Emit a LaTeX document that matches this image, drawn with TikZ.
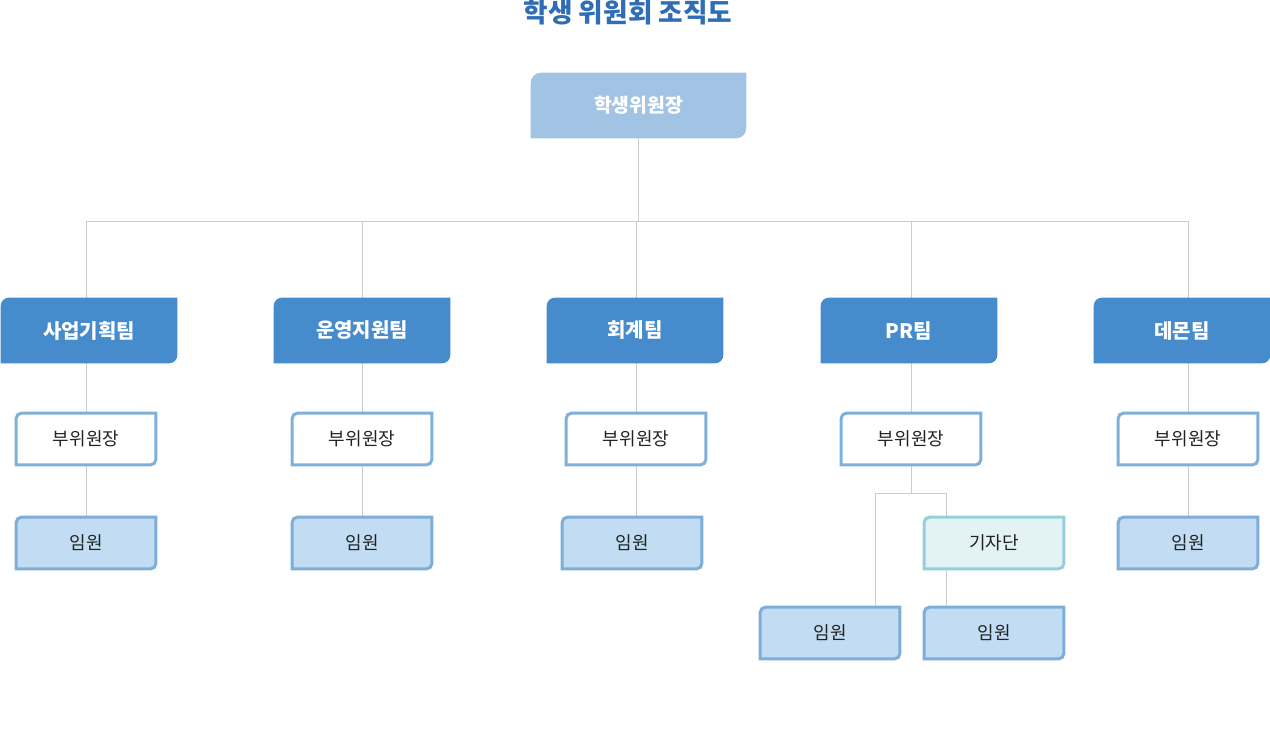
\documentclass[tikz,border=0pt]{standalone}
\usepackage{fontspec}
\setmainfont{Noto Sans CJK KR}
\usetikzlibrary{calc,backgrounds}

\definecolor{titleblue}{HTML}{2F6EB5}
\definecolor{chieffill}{HTML}{A2C4E4}
\definecolor{teamfill}{HTML}{468BCB}
\definecolor{deputyline}{HTML}{7FB0DA}
\definecolor{memberfill}{HTML}{C2DDF3}
\definecolor{memberline}{HTML}{7EAED8}
\definecolor{pressfill}{HTML}{E2F2F5}
\definecolor{pressline}{HTML}{94CFDA}
\definecolor{linegray}{HTML}{CCCCCC}
\definecolor{textdark}{HTML}{222222}

\tikzset{
  chief/.style={minimum width=161.25pt, minimum height=48.75pt, inner sep=0pt,
    font=\bfseries\fontsize{14.5}{16}\selectfont, text=white},
  team/.style={minimum width=132pt, minimum height=48.75pt, inner sep=0pt,
    font=\bfseries\fontsize{15}{17}\selectfont, text=white},
  deputy/.style={minimum width=104.25pt, minimum height=38.25pt, inner sep=0pt,
    font=\fontsize{13.5}{15}\selectfont, text=textdark},
  link/.style={draw=linegray, line width=0.75pt},
  chief frame/.style={fill=chieffill},
  team frame/.style={fill=teamfill},
  deputy frame/.style={draw=deputyline, fill=white, line width=2.25pt},
  member frame/.style={draw=memberline, fill=memberfill, line width=2.25pt},
  press frame/.style={draw=pressline, fill=pressfill, line width=2.25pt},
}

% box with round top-left and bottom-right corners: node, style, radius
\newcommand\orgframe[3]{%
  \path[#2] (#1.south west) -- ($(#1.north west)+(0,#3)$)
    arc[start angle=180, end angle=270, radius=#3] -- (#1.north east)
    -- ($(#1.south east)-(0,#3)$)
    arc[start angle=0, end angle=90, radius=#3] -- cycle;
}

\begin{document}
\begin{tikzpicture}[x=0.75pt,y=-0.75pt]
  \useasboundingbox (0,0) rectangle (1270,750);

  % Title
  \node[font=\bfseries\fontsize{20}{23}\selectfont, text=titleblue] (title) at (628,12) {학생 위원회 조직도};

  % Chief
  \node[chief] (chief) at (638.5,105.5) {학생위원장};

  % Teams
  \node[team] (team1) at (89,330.5) {사업기획팀};
  \node[team] (team2) at (362,330.5) {운영지원팀};
  \node[team] (team3) at (635,330.5) {회계팀};
  \node[team] (team4) at (909,330.5) {PR팀};
  \node[team] (team5) at (1182,330.5) {데몬팀};

  % Deputies
  \foreach \i/\x in {1/86,2/362,3/636,4/911,5/1188}
    \node[deputy] (dep\i) at (\x,439) {부위원장};

  % Members
  \node[deputy] (mem1) at (86,543) {임원};
  \node[deputy] (mem2) at (362,543) {임원};
  \node[deputy] (mem3) at (632,543) {임원};
  \node[deputy] (mem5) at (1188,543) {임원};
  \node[deputy] (press) at (994,543) {기자단};
  \node[deputy] (mem4a) at (830,633) {임원};
  \node[deputy] (mem4b) at (994,633) {임원};

  \coordinate (bus) at (638,221);
  \coordinate (prL) at (875,493);
  \coordinate (prR) at (946,493);

  \begin{pgfonlayer}{background}
    % Connectors
    \draw[link] (chief.south) -- (chief.south |- bus);
    \draw[link] (dep1.north |- bus) -- (dep5.north |- bus);
    \foreach \i in {1,...,5} {
      \draw[link] (dep\i.north |- bus) -- (dep\i.north |- team\i.north);
      \draw[link] (dep\i.north |- team\i.south) -- (dep\i.north);
    }
    \foreach \i in {1,2,3,5} {
      \draw[link] (dep\i.south) -- (dep\i.south |- mem\i.north);
    }
    \draw[link] (dep4.south) -- (dep4.south |- prL);
    \draw[link] (prL) -- (prR);
    \draw[link] (prL) -- (prL |- mem4a.north);
    \draw[link] (prR) -- (prR |- press.north);
    \draw[link] (prR |- press.south) -- (prR |- mem4b.north);

    % Frames
    \orgframe{chief}{chief frame}{10}
    \foreach \i in {1,...,5} {
      \orgframe{team\i}{team frame}{8}
      \orgframe{dep\i}{deputy frame}{5}
    }
    \foreach \n in {mem1,mem2,mem3,mem5,mem4a,mem4b} {
      \orgframe{\n}{member frame}{5}
    }
    \orgframe{press}{press frame}{5}
  \end{pgfonlayer}
\end{tikzpicture}
\end{document}
